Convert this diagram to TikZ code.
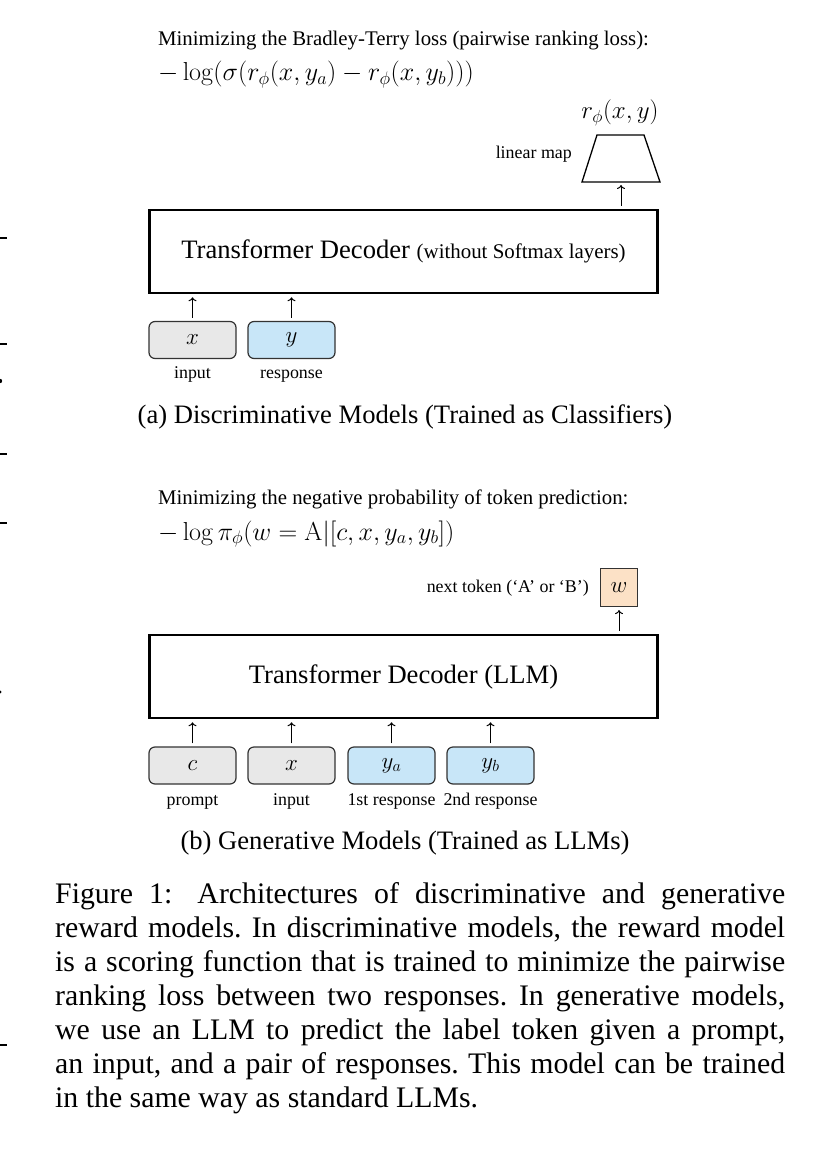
\RequirePackage{fix-cm}
\documentclass[tikz,border=0pt]{standalone}
\usepackage[no-math]{fontspec}
\setmainfont{Liberation Serif}
\usetikzlibrary{arrows.meta}
\definecolor{ingray}{HTML}{E8E8E8}
\definecolor{inblue}{HTML}{C8E6F8}
\definecolor{tokorange}{HTML}{FCE1C6}
\definecolor{edgegray}{HTML}{333333}
\newcommand\setfs[2]{\fontsize{#1}{#2}\selectfont}
\begin{document}
\begin{tikzpicture}[x=1pt,y=-1pt,
  decbox/.style={draw, line width=2.5pt, minimum width=508pt, minimum height=83pt, inner sep=0pt},
  inbox/.style={draw=edgegray, rounded corners=6pt, line width=1.2pt, minimum width=87pt, minimum height=37pt, inner sep=0pt, font=\setfs{23}{26}},
  lbl/.style={anchor=base, inner sep=0pt, font=\setfs{17.9}{21}},
  head/.style={anchor=base west, inner sep=0pt, font=\setfs{20.8}{25}},
  formula/.style={anchor=base west, inner sep=0pt, font=\setfs{26}{30}},
  subcap/.style={anchor=base, inner sep=0pt, font=\setfs{26.6}{30}},
  arr/.style={-{To[length=4pt,width=8pt]}, line width=1pt, shorten <=3pt, shorten >=3pt}
]
\useasboundingbox (0,0) rectangle (820,1158);
\fill[white] (0,0) rectangle (820,1158);
% margin remnants
\foreach \yy in {238,344,454,523,1045} \draw[line width=1.2pt] (0,\yy) -- (7,\yy);
\fill (0,381) circle (2.2pt);
\fill (0,692) circle (1.6pt);

% (a)
\node[head] (lossa) at (158,46) {Minimizing the Bradley-Terry loss (pairwise ranking loss):};
\node[formula] (forma) at (158,81) {$-\log(\sigma(r_\phi(x,y_a)-r_\phi(x,y_b)))$};
\node[decbox] (deca) at (403.5,251.5) {\setfs{26.6}{30}Transformer Decoder {\setfs{20.9}{24}(without Softmax layers)}};
\draw[line width=1.3pt, line join=miter] (597,135) -- (644,135) -- (660,182) -- (582,182) -- cycle;
\coordinate (lin) at (621,182);
\node[anchor=base, inner sep=0pt, font=\setfs{25}{28}] (rphi) at (620,119) {$r_\phi(x,y)$};
\node[lbl, anchor=base east] (linl) at (572,159) {linear map};
\draw[arr] (deca.north -| lin) -- (lin);
\node[inbox, fill=ingray] (xa) at (192.5,340) {$x$};
\node[inbox, fill=inblue] (ya) at (291.5,340) {$y$};
\node[lbl] (xal) at (192.5,378) {input};
\node[lbl] (yal) at (291.5,378) {response};
\draw[arr] (xa.north) -- (deca.south -| xa.north);
\draw[arr] (ya.north) -- (deca.south -| ya.north);
\node[subcap] (capa) at (405,423) {(a) Discriminative Models (Trained as Classifiers)};

% (b)
\node[head] (lossb) at (158,504) {Minimizing the negative probability of token prediction:};
\node[formula] (formb) at (158,540) {$-\log\pi_\phi(w=\mathrm{A}|[c,x,y_a,y_b])$};
\node[decbox] (decb) at (403.5,676.5) {\setfs{26.6}{30}Transformer Decoder (LLM)};
\node[draw=edgegray, fill=tokorange, minimum width=37pt, minimum height=38pt, line width=1.2pt, inner sep=0pt, font=\setfs{23}{26}] (w) at (619,587.5) {$w$};
\node[lbl, anchor=base east] (wl) at (589,592) {next token (`A' or `B')};
\draw[arr] (decb.north -| w.south) -- (w.south);
\node[inbox, fill=ingray] (cb) at (192.5,765.5) {$c$};
\node[inbox, fill=ingray] (xb) at (291.5,765.5) {$x$};
\node[inbox, fill=inblue] (yab) at (391.5,765.5) {$y_a$};
\node[inbox, fill=inblue] (ybb) at (490.5,765.5) {$y_b$};
\node[lbl] (cbl) at (192.5,805) {prompt};
\node[lbl] (xbl) at (291.5,805) {input};
\node[lbl] (yabl) at (391.5,805) {1st response};
\node[lbl] (ybbl) at (490.5,805) {2nd response};
\foreach \n in {cb,xb,yab,ybb} \draw[arr] (\n.north) -- (decb.south -| \n.north);
\node[subcap] (capb) at (405,849) {(b) Generative Models (Trained as LLMs)};

% caption
\node[anchor=north west, inner sep=0pt, text width=730pt, align=justify, font=\setfs{29.8}{34}] (fig) at (55,882) {\hyphenpenalty=10000\frenchspacing Figure 1:\hspace{0.3em} Architectures of discriminative and generative\linebreak reward models. In discriminative models, the reward model\linebreak is a scoring function that is trained to minimize the pairwise\linebreak ranking loss between two responses. In generative models,\linebreak we use an LLM to predict the label token given a prompt,\linebreak an input, and a pair of responses. This model can be trained\linebreak in the same way as standard LLMs.};
\end{tikzpicture}
\end{document}
